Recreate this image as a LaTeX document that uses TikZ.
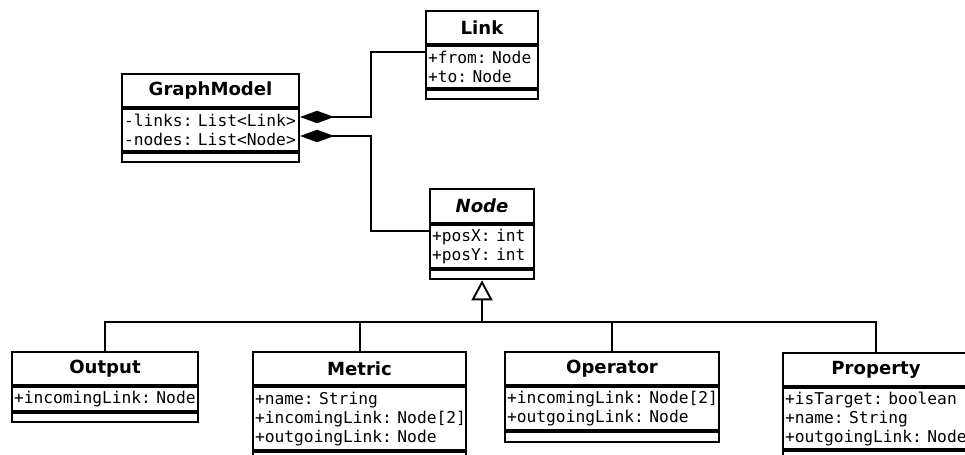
\documentclass[tikz,border=0pt]{standalone}
\usepackage{fontspec}
\setsansfont{DejaVu Sans}
\setmonofont{DejaVu Sans Mono}
\usetikzlibrary{arrows.meta}

\begin{document}
\begin{tikzpicture}[x=0.02cm,y=-0.02cm,
    classname/.style={draw,line width=1.2pt,anchor=north west,inner sep=0pt,minimum height=0.66cm,font=\sffamily\bfseries\fontsize{10.3}{12}\selectfont},
    classattr/.style={draw,line width=1.2pt,anchor=north,inner xsep=0.04cm,inner ysep=0pt,align=left,font=\ttfamily\fontsize{9.25}{10.8}\selectfont},
    classend/.style={draw,line width=1.2pt,anchor=north,minimum height=0.18cm,inner sep=0pt},
    assoc/.style={line width=1.1pt},
    composition/.style={assoc,{Diamond[length=0.68cm,width=0.25cm]}-},
    inherit/.style={assoc,-{Triangle[open,length=0.4cm,width=0.42cm]}}]

        \useasboundingbox (0,0) rectangle (965,455);
        \clip (0,0) rectangle (965,455);

        % Classe GraphModel
        \node[classname,minimum width=3.54cm] (gmname) at (121,73) {GraphModel};
        \node[classattr,text width=3.46cm,minimum height=0.84cm] (gmattr) at (gmname.south) {-links:~List<Link>\\-nodes:~List<Node>};
        \node[classend,minimum width=3.54cm] (gmend) at (gmattr.south) {};

        % Classe Link
        \node[classname,minimum width=2.24cm] (linkname) at (425,10) {Link};
        \node[classattr,text width=2.16cm,minimum height=0.84cm] (linkattr) at (linkname.south) {+from:~Node\\+to:~Node};
        \node[classend,minimum width=2.24cm] (linkend) at (linkattr.south) {};

        % Classe abstraite Node
        \node[classname,minimum width=2.08cm,minimum height=0.68cm] (nodename) at (429,188) {\itshape Node};
        \node[classattr,text width=2.0cm,minimum height=0.86cm] (nodeattr) at (nodename.south) {+posX:~int\\+posY:~int};
        \node[classend,minimum width=2.08cm] (nodeend) at (nodeattr.south) {};

        % Sous-classes
        \node[classname,minimum width=3.72cm] (outname) at (11,351) {Output};
        \node[classattr,text width=3.64cm,minimum height=0.48cm] (outattr) at (outname.south) {+incomingLink:~Node};
        \node[classend,minimum width=3.72cm] (outend) at (outattr.south) {};

        \node[classname,minimum width=4.26cm] (metricname) at (252,351) {Metric};
        \node[classattr,text width=4.18cm,minimum height=1.26cm] (metricattr) at (metricname.south) {+name:~String\\+incomingLink:~Node[2]\\+outgoingLink:~Node};
        \node[classend,minimum width=4.26cm,minimum height=0.2cm] (metricend) at (metricattr.south) {};

        \node[classname,minimum width=4.28cm] (opname) at (504,351) {Operator};
        \node[classattr,text width=4.2cm,minimum height=0.86cm] (opattr) at (opname.south) {+incomingLink:~Node[2]\\+outgoingLink:~Node};
        \node[classend,minimum width=4.28cm,minimum height=0.2cm] (opend) at (opattr.south) {};

        \node[classname,minimum width=3.72cm] (propname) at (782,352) {Property};
        \node[classattr,text width=3.64cm,minimum height=1.22cm] (propattr) at (propname.south) {+isTarget:~boolean\\+name:~String\\+outgoingLink:~Node};
        \node[classend,minimum width=3.72cm,minimum height=0.2cm] (propend) at (propattr.south) {};

        % Compositions
        \draw[composition] (gmattr.east |- 0,117) -- (371,117) -- (371,52) -- (linkattr.west |- 0,52);
        \draw[composition] (gmattr.east |- 0,136) -- (371,136) -- (371,231) -- (nodeattr.west |- 0,231);

        % Heritage
        \draw[inherit] (nodeend.south |- 0,322) -- (nodeend.south);
        \draw[assoc] (outname.north) -- (outname.north |- 0,322) -- (propname.north |- 0,322) -- (propname.north);
        \draw[assoc] (metricname.north) -- (metricname.north |- 0,322);
        \draw[assoc] (opname.north) -- (opname.north |- 0,322);
    \end{tikzpicture}
\end{document}
